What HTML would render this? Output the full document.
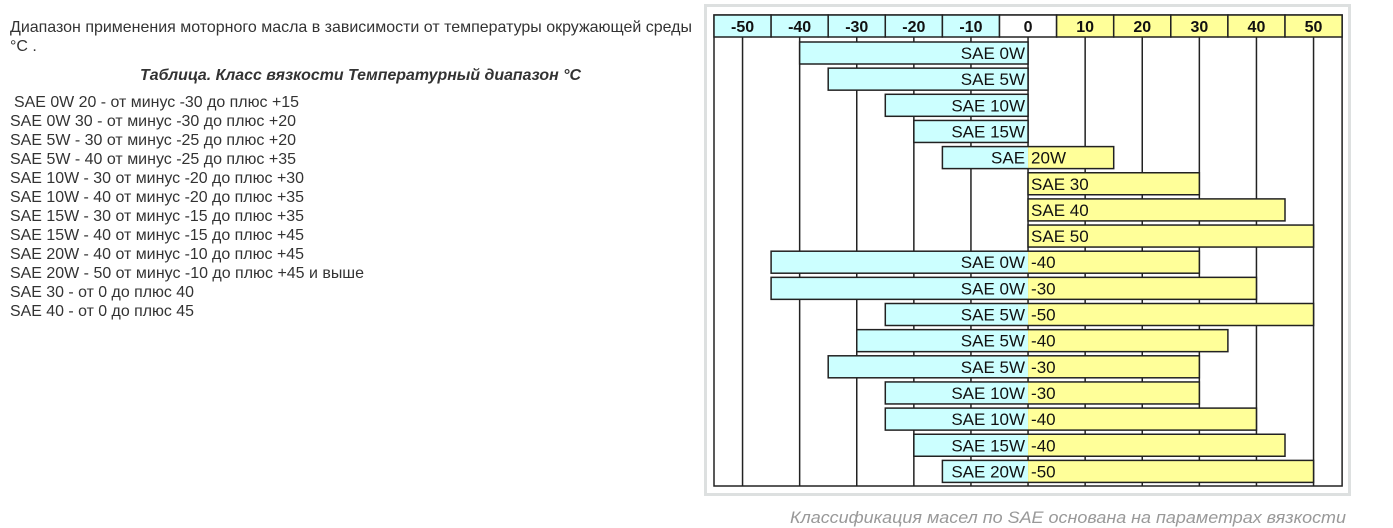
<!DOCTYPE html>
<html><head><meta charset="utf-8"><style>
html,body{margin:0;padding:0;background:#fff;width:1393px;height:528px;overflow:hidden}
svg{display:block;font-family:"Liberation Sans",Arial,sans-serif}
</style></head><body>
<svg width="1393" height="528" viewBox="0 0 1393 528" xmlns="http://www.w3.org/2000/svg">
<g fill="#333" font-size="16">
<text x="10" y="32" textLength="682" lengthAdjust="spacingAndGlyphs">Диапазон применения моторного масла в зависимости от температуры окружающей среды</text>
<text x="10" y="51">°C .</text>
<text x="140" y="80" font-weight="bold" font-style="italic" textLength="441" lengthAdjust="spacingAndGlyphs">Таблица. Класс вязкости Температурный диапазон °C</text>
<text x="14" y="107" textLength="285" lengthAdjust="spacingAndGlyphs">SAE 0W 20 - от минус -30 до плюс +15</text>
<text x="10" y="126" textLength="286" lengthAdjust="spacingAndGlyphs">SAE 0W 30 - от минус -30 до плюс +20</text>
<text x="10" y="145" textLength="286" lengthAdjust="spacingAndGlyphs">SAE 5W - 30 от минус -25 до плюс +20</text>
<text x="10" y="164" textLength="286" lengthAdjust="spacingAndGlyphs">SAE 5W - 40 от минус -25 до плюс +35</text>
<text x="10" y="183" textLength="294" lengthAdjust="spacingAndGlyphs">SAE 10W - 30 от минус -20 до плюс +30</text>
<text x="10" y="202" textLength="294" lengthAdjust="spacingAndGlyphs">SAE 10W - 40 от минус -20 до плюс +35</text>
<text x="10" y="221" textLength="294" lengthAdjust="spacingAndGlyphs">SAE 15W - 30 от минус -15 до плюс +35</text>
<text x="10" y="240" textLength="294" lengthAdjust="spacingAndGlyphs">SAE 15W - 40 от минус -15 до плюс +45</text>
<text x="10" y="259" textLength="294" lengthAdjust="spacingAndGlyphs">SAE 20W - 40 от минус -10 до плюс +45</text>
<text x="10" y="278" textLength="354" lengthAdjust="spacingAndGlyphs">SAE 20W - 50 от минус -10 до плюс +45 и выше</text>
<text x="10" y="297" textLength="184" lengthAdjust="spacingAndGlyphs">SAE 30 - от 0 до плюс 40</text>
<text x="10" y="316" textLength="184" lengthAdjust="spacingAndGlyphs">SAE 40 - от 0 до плюс 45</text>
</g>
<rect x="705.5" y="5.5" width="644" height="489" fill="#fff" stroke="#dde0e0" stroke-width="3"/>
<text x="790" y="523" fill="#999" font-size="17" font-style="italic" textLength="556" lengthAdjust="spacingAndGlyphs">Классификация масел по SAE основана на параметрах вязкости</text>
<g id="chart"></g>
</svg>
<script>
var g=document.getElementById('chart'),NS='http://www.w3.org/2000/svg';
function el(t,a,txt){var e=document.createElementNS(NS,t);for(var k in a)e.setAttribute(k,a[k]);if(txt)e.textContent=txt;g.appendChild(e);return e;}
var L=714,W=57.1,T=15,H=22,B=486;
function X(v){return L+W/2+(v+50)/10*W;}
el('rect',{x:L,y:T,width:W*11,height:B-T,fill:'#fff',stroke:'#222','stroke-width':1.5});
for(var i=0;i<11;i++){var v=-50+i*10;el('line',{x1:X(v),y1:T+H,x2:X(v),y2:B,stroke:'#222','stroke-width':1.5});}
for(var i=0;i<11;i++){var v=-50+i*10;el('rect',{x:L+i*W,y:T,width:W,height:H,fill:v<0?'#ccffff':(v==0?'#fff':'#ffff99'),stroke:'#222','stroke-width':1.5});
el('text',{x:L+i*W+W/2,y:T+17,'text-anchor':'middle','font-size':16,'font-weight':'bold',fill:'#111'},String(v));}
var rows=[['SAE 0W','',-40,0],['SAE 5W','',-35,0],['SAE 10W','',-25,0],['SAE 15W','',-20,0],['SAE','20W',-15,15],['','SAE 30',0,30],['','SAE 40',0,45],['','SAE 50',0,50],
['SAE 0W','-40',-45,30],['SAE 0W','-30',-45,40],['SAE 5W','-50',-25,50],['SAE 5W','-40',-30,35],['SAE 5W','-30',-35,30],['SAE 10W','-30',-25,30],['SAE 10W','-40',-25,40],['SAE 15W','-40',-20,45],['SAE 20W','-50',-15,50]];
var z=X(0);
rows.forEach(function(r,i){var y=42+i*26.15,h=22;
if(r[2]<0)el('rect',{x:X(r[2]),y:y,width:z-X(r[2]),height:h,fill:'#ccffff'});
if(r[3]>0)el('rect',{x:z,y:y,width:X(r[3])-z,height:h,fill:'#ffff99'});
el('rect',{x:X(r[2]),y:y,width:X(r[3])-X(r[2]),height:h,fill:'none',stroke:'#222','stroke-width':1.5});
if(r[0])el('text',{x:z-3,y:y+17,'text-anchor':'end','font-size':17,fill:'#111'},r[0]);
if(r[1])el('text',{x:z+3,y:y+17,'font-size':17,fill:'#111'},r[1]);
});
</script>
</body></html>
